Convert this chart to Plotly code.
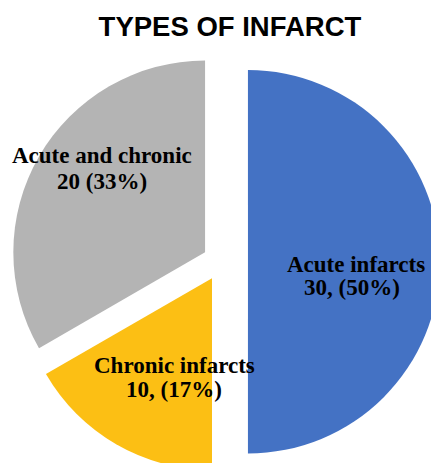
import plotly.graph_objects as go

# ---- data ----
categories = ["Acute infarcts", "Chronic infarcts", "Acute and chronic"]
values = [30, 10, 20]
value_labels = ["30, (50%)", "10, (17%)", "20 (33%)"]
colors = ["#4472C4", "#FCBF14", "#B4B4B4"]
title_text = "TYPES OF INFARCT"

# ---- geometry (figure is slightly larger than the window; the reference pie is cropped) ----
W, H = 443, 480
BOX_TOP = 43.6  # px from top where the pie's domain box begins


def px(x, y):
    """window pixel -> paper coords"""
    return x / W, 1 - y / H


fig = go.Figure(
    go.Pie(
        labels=categories,
        values=values,
        sort=False,
        direction="clockwise",
        rotation=0,
        pull=[0.138, 0.099, 0.099],
        marker=dict(colors=colors, line=dict(width=0)),
        textinfo="none",
        hoverinfo="label+value+percent",
        showlegend=False,
        domain=dict(x=[0, 1], y=[0, 1 - BOX_TOP / H]),
    )
)

# label text positions (window px: line-1 x, line-2 x, line-1 centre y, line-2 centre y)
label_pos = [(356, 352, 264, 287), (174, 174, 365, 389), (102, 102, 156, 181)]
font_lbl = dict(family="Liberation Serif, Times New Roman, serif", size=23, color="black")
anns = []
for cat, vl, (x1, x2, y1, y2) in zip(categories, value_labels, label_pos):
    for txt, xx, yy in ((f"<b>{cat}</b>", x1, y1), (f"<b>{vl}</b>", x2, y2)):
        ax, ay = px(xx, yy)
        anns.append(dict(text=txt, x=ax, y=ay, xref="paper", yref="paper",
                         xanchor="center", yanchor="middle", showarrow=False,
                         font=font_lbl))

tx, ty = px(230, 26)
fig.update_layout(
    width=W,
    height=H,
    margin=dict(l=0, r=0, t=0, b=0),
    paper_bgcolor="white",
    plot_bgcolor="white",
    title=dict(text=f"<b>{title_text}</b>", x=tx, y=ty, xanchor="center", yanchor="middle",
               font=dict(family="Liberation Sans, Arial, sans-serif", size=27.5, color="black")),
    annotations=anns,
)

post = "document.body.style.margin='0';document.body.style.overflow='hidden';"
fig.write_html("out.html", post_script=post, config={"displayModeBar": False})
